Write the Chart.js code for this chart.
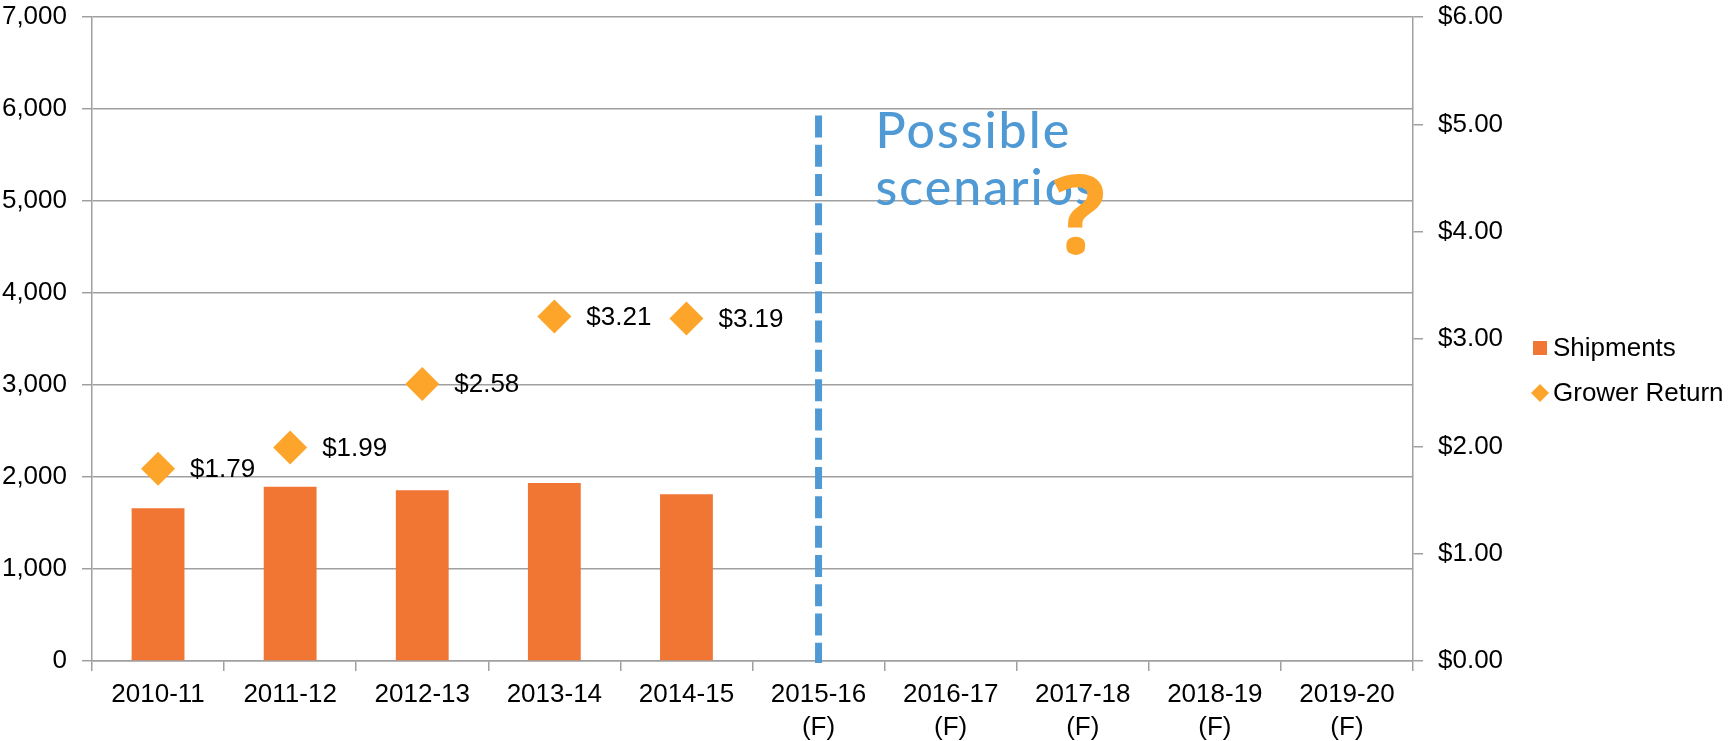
<!DOCTYPE html>
<html>
<head>
<meta charset="utf-8">
<title>Shipments and Grower Return</title>
<script src="https://cdn.jsdelivr.net/npm/chart.js@4.4.1/dist/chart.umd.min.js"></script>
<style>
    html, body { margin: 0; padding: 0; background: #fff; }
    #wrap { width: 1729px; height: 741px; position: relative; }
</style>
</head>
<body>
<div id="wrap"><canvas id="chart"></canvas></div>
<script>
// season labels, forecast years carry a second "(F)" line
const seasons = [
    '2010-11', '2011-12', '2012-13', '2013-14', '2014-15',
    ['2015-16', '(F)'], ['2016-17', '(F)'], ['2017-18', '(F)'], ['2018-19', '(F)'], ['2019-20', '(F)']
];
const shipments = [1660, 1895, 1855, 1935, 1812, null, null, null, null, null];
const growerReturn = [1.79, 1.99, 2.58, 3.21, 3.19, null, null, null, null, null];

const shipmentTicks = [0, 7000, 1000];   // min, max, step
const returnTicks = [0, 6, 1];           // min, max, step

const forecastIndex = 5;     // dashed divider sits on 2015-16
const dividerTop = 5930;     // in shipment units

const COLORS = {
    bar: '#F17533',
    diamond: '#FDA52A',
    blue: '#4F9AD5',
    grid: '#a0a0a0',
    text: '#000000'
};

Chart.defaults.font.family = "'Liberation Sans', Arial, sans-serif";
Chart.defaults.font.size = 26;
Chart.defaults.color = COLORS.text;

// pin axis sizes so the plot area lands where the original has it
const pinY = (w) => (s) => {
    s.width = w;
    s.paddingTop = 15.7;
    s.paddingBottom = 0;
};

// dashed forecast divider + "Possible scenarios ?" note
const dividerPlugin = {
    id: 'divider',
    afterDatasetsDraw: (chart) => {
        const { ctx, scales } = chart;
        const x = scales.x.getPixelForValue(forecastIndex);
        const yTop = scales.y.getPixelForValue(dividerTop);
        const yBottom = scales.y.getPixelForValue(0);

        ctx.save();
        ctx.strokeStyle = COLORS.blue;
        ctx.lineWidth = 7;
        ctx.setLineDash([22, 7.3]);
        ctx.beginPath();
        ctx.moveTo(x, yTop);
        ctx.lineTo(x, yBottom + 2);
        ctx.stroke();
        ctx.setLineDash([]);

        ctx.fillStyle = COLORS.blue;
        ctx.font = "500 50px Lato, 'Open Sans', sans-serif";
        ctx.letterSpacing = '2px';
        ctx.textAlign = 'left';
        ctx.textBaseline = 'alphabetic';
        ctx.fillText('Possible', x + 57, 148);
        ctx.fillText('scenarios', x + 57, 205);

        ctx.letterSpacing = '0px';
        ctx.fillStyle = COLORS.diamond;
        ctx.font = "bold 110px 'Open Sans', Lato, sans-serif";
        ctx.textAlign = 'center';
        ctx.fillText('?', x + 261, 254);
        ctx.restore();
    }
};

// "$1.79" style labels to the right of each diamond
const returnLabels = {
    id: 'returnLabels',
    afterDatasetsDraw: (chart) => {
        const { ctx } = chart;
        const meta = chart.getDatasetMeta(1);
        ctx.save();
        ctx.fillStyle = COLORS.text;
        ctx.font = "26px 'Liberation Sans', Arial, sans-serif";
        ctx.textAlign = 'left';
        ctx.textBaseline = 'middle';
        meta.data.forEach((pt, i) => {
            const v = growerReturn[i];
            if (v == null) return;
            ctx.fillText('$' + v.toFixed(2), pt.x + 32, pt.y + 1);
        });
        ctx.restore();
    }
};

// legend drawn by hand so item spacing matches the original
const sideLegend = {
    id: 'sideLegend',
    afterDraw: (chart) => {
        const { ctx } = chart;
        const x = chart.width - 196;
        const mid = chart.height / 2;
        const rows = [mid - 22.5, mid + 22.5];
        ctx.save();
        ctx.font = "26px 'Liberation Sans', Arial, sans-serif";
        ctx.textBaseline = 'middle';
        ctx.textAlign = 'left';

        // Shipments square
        ctx.fillStyle = COLORS.bar;
        ctx.fillRect(x, rows[0] - 7, 14, 14);
        // Grower Return diamond
        ctx.fillStyle = COLORS.diamond;
        ctx.beginPath();
        ctx.moveTo(x + 7, rows[1] - 9);
        ctx.lineTo(x + 16, rows[1]);
        ctx.lineTo(x + 7, rows[1] + 9);
        ctx.lineTo(x - 2, rows[1]);
        ctx.closePath();
        ctx.fill();

        ctx.fillStyle = COLORS.text;
        chart.data.datasets.forEach((ds, i) => {
            ctx.fillText(ds.label, x + 20, rows[i] + 1);
        });
        ctx.restore();
    }
};

const ctx = document.getElementById('chart').getContext('2d');
new Chart(ctx, {
    type: 'bar',
    data: {
        labels: seasons,
        datasets: [
            {
                label: 'Shipments',
                data: shipments,
                backgroundColor: COLORS.bar,
                categoryPercentage: 1,
                barPercentage: 0.4,
                yAxisID: 'y',
                order: 2
            },
            {
                type: 'line',
                label: 'Grower Return',
                data: growerReturn,
                showLine: false,
                pointStyle: 'rectRot',
                pointRadius: 17,
                pointBackgroundColor: COLORS.diamond,
                pointBorderWidth: 0,
                borderColor: COLORS.diamond,
                yAxisID: 'y1',
                order: 1
            }
        ]
    },
    options: {
        responsive: true,
        maintainAspectRatio: false,
        animation: false,
        events: [],
        layout: { padding: { left: 2, right: 226, top: 0, bottom: 0 } },
        plugins: {
            legend: { display: false },
            tooltip: { enabled: false }
        },
        scales: {
            x: {
                afterFit: (s) => {
                    s.height = 80;
                    s.paddingLeft = 0;
                    s.paddingRight = 0;
                },
                grid: {
                    display: true,
                    drawOnChartArea: false,
                    drawTicks: true,
                    tickLength: 10,
                    color: COLORS.grid,
                    lineWidth: 1.5,
                    offset: true
                },
                border: { color: COLORS.grid, width: 1.5 },
                ticks: {
                    padding: 7.5,
                    maxRotation: 0,
                    autoSkip: false,
                    font: { size: 26, lineHeight: 1.27 }
                }
            },
            y: {
                position: 'left',
                min: shipmentTicks[0],
                max: shipmentTicks[1],
                afterFit: pinY(90),
                grid: { color: COLORS.grid, lineWidth: 1.5, tickLength: 10 },
                border: { color: COLORS.grid, width: 1.5 },
                ticks: {
                    stepSize: shipmentTicks[2],
                    padding: 15,
                    callback: (v) => v.toLocaleString('en-US')
                }
            },
            y1: {
                position: 'right',
                min: returnTicks[0],
                max: returnTicks[1],
                afterFit: pinY(90),
                grid: {
                    drawOnChartArea: false,
                    color: COLORS.grid,
                    lineWidth: 1.5,
                    tickLength: 10
                },
                border: { color: COLORS.grid, width: 1.5 },
                ticks: {
                    stepSize: returnTicks[2],
                    padding: 15,
                    callback: (v) => '$' + v.toFixed(2)
                }
            }
        }
    },
    plugins: [dividerPlugin, returnLabels, sideLegend]
});
</script>
</body>
</html>
